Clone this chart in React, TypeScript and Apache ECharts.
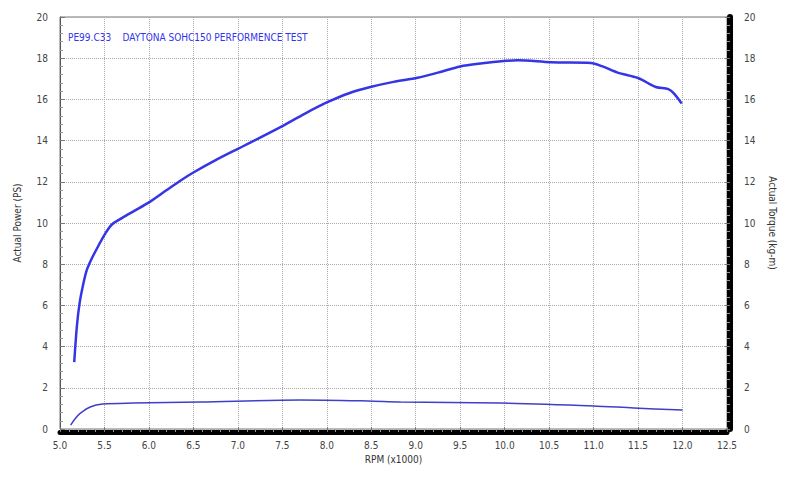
import { useEffect, useRef } from "react";
import * as echarts from "echarts";

const FONT = "'Liberation Sans Narrow', 'DejaVu Sans Condensed', 'Liberation Sans', sans-serif";

const TITLE = "PE99.C33    DAYTONA SOHC150 PERFORMENCE TEST";

// RPM (x1000) vs actual power (PS)
const powerRpm = [
  5.16, 5.19, 5.22, 5.26, 5.3, 5.36, 5.42, 5.51, 5.59, 5.7, 5.84, 6.0, 6.2,
  6.37, 6.5, 6.75, 7.0, 7.14, 7.5, 7.75, 8.0, 8.25, 8.49, 8.75, 9.02, 9.25,
  9.5, 9.75, 9.99, 10.15, 10.52, 10.97, 11.1, 11.27, 11.5, 11.7, 11.84, 11.9,
  11.99,
];
const powerPs = [
  3.25, 5.0, 6.1, 7.0, 7.7, 8.3, 8.8, 9.5, 9.95, 10.25, 10.6, 11.0, 11.6, 12.1,
  12.45, 13.05, 13.6, 13.9, 14.7, 15.3, 15.85, 16.3, 16.6, 16.85, 17.05, 17.3,
  17.6, 17.75, 17.86, 17.9, 17.8, 17.77, 17.6, 17.3, 17.04, 16.6, 16.5, 16.3,
  15.8,
];

// RPM (x1000) vs actual torque (kg-m)
const torqueRpm = [
  5.12, 5.17, 5.23, 5.34, 5.48, 5.82, 6.58, 7.7, 8.46, 8.83, 9.95, 11.0, 11.45,
  12.0,
];
const torqueKgm = [
  0.19, 0.5, 0.77, 1.07, 1.21, 1.26, 1.31, 1.41, 1.36, 1.31, 1.26, 1.12, 1.02,
  0.92,
];

const gridLine = { show: true, lineStyle: { color: "#aaa", type: "dotted" as const, width: 1 } };

export default function App() {
  const chartRef = useRef<HTMLDivElement>(null);

  useEffect(() => {
    if (!chartRef.current) return;
    document.body.style.margin = "0";
    const chart = echarts.init(chartRef.current, null, { renderer: "svg" });

    const labelStyle = { fontFamily: FONT, fontSize: 10, color: "#444" };

    const yBase = {
      type: "value" as const,
      min: 0,
      max: 20,
      interval: 2,
      nameLocation: "middle" as const,
      nameTextStyle: { fontFamily: FONT, fontSize: 10, color: "#333" },
      axisTick: { show: true, inside: true, length: 5, lineStyle: { color: "#777" } },
      minorTick: { show: true, splitNumber: 5, length: 3, lineStyle: { color: "#999" } },
      axisLabel: { ...labelStyle, margin: 12 },
    };

    chart.setOption({
      animation: false,
      backgroundColor: "#fff",
      title: {
        text: TITLE,
        left: 63,
        top: 27,
        textStyle: { fontFamily: FONT, fontSize: 10, fontWeight: "normal", color: "#3333ee" },
      },
      grid: {
        left: 60,
        right: 68,
        top: 17,
        bottom: 50,
        show: true,
        borderColor: "#777",
        borderWidth: 1,
      },
      xAxis: {
        type: "value",
        min: 5,
        max: 12.5,
        interval: 0.5,
        offset: 3,
        name: "RPM (x1000)",
        nameLocation: "middle",
        nameGap: 19,
        nameTextStyle: { fontFamily: FONT, fontSize: 10, color: "#333" },
        axisLine: { show: true, onZero: false, lineStyle: { color: "#000", width: 5 } },
        axisTick: { show: true, inside: true, length: 5, lineStyle: { color: "#777" } },
        minorTick: { show: true, splitNumber: 5, length: 3, lineStyle: { color: "#999" } },
        axisLabel: { ...labelStyle, margin: 8, formatter: (v: number) => v.toFixed(1) },
        splitLine: gridLine,
      },
      yAxis: [
        {
          ...yBase,
          position: "left",
          name: "Actual Power (PS)",
          nameGap: 38,
          nameRotate: 90,
          axisLine: { show: true, lineStyle: { color: "#555", width: 1 } },
          splitLine: gridLine,
        },
        {
          ...yBase,
          position: "right",
          offset: 3,
          name: "Actual Torque (kg-m)",
          nameGap: 37,
          nameRotate: -90,
          axisLine: { show: true, lineStyle: { color: "#000", width: 6 } },
          axisLabel: { ...labelStyle, margin: 14 },
          splitLine: { show: false },
        },
      ],
      series: [
        {
          type: "line",
          yAxisIndex: 0,
          smooth: 0.3,
          symbol: "none",
          lineStyle: { color: "#3535e6", width: 2.5 },
          data: powerRpm.map((r, i) => [r, powerPs[i]]),
        },
        {
          type: "line",
          yAxisIndex: 1,
          smooth: 0.3,
          symbol: "none",
          lineStyle: { color: "#3f3fc8", width: 1.5 },
          data: torqueRpm.map((r, i) => [r, torqueKgm[i]]),
        },
      ],
    });

    return () => chart.dispose();
  }, []);

  return <div ref={chartRef} style={{ width: 795, height: 479 }} />;
}
